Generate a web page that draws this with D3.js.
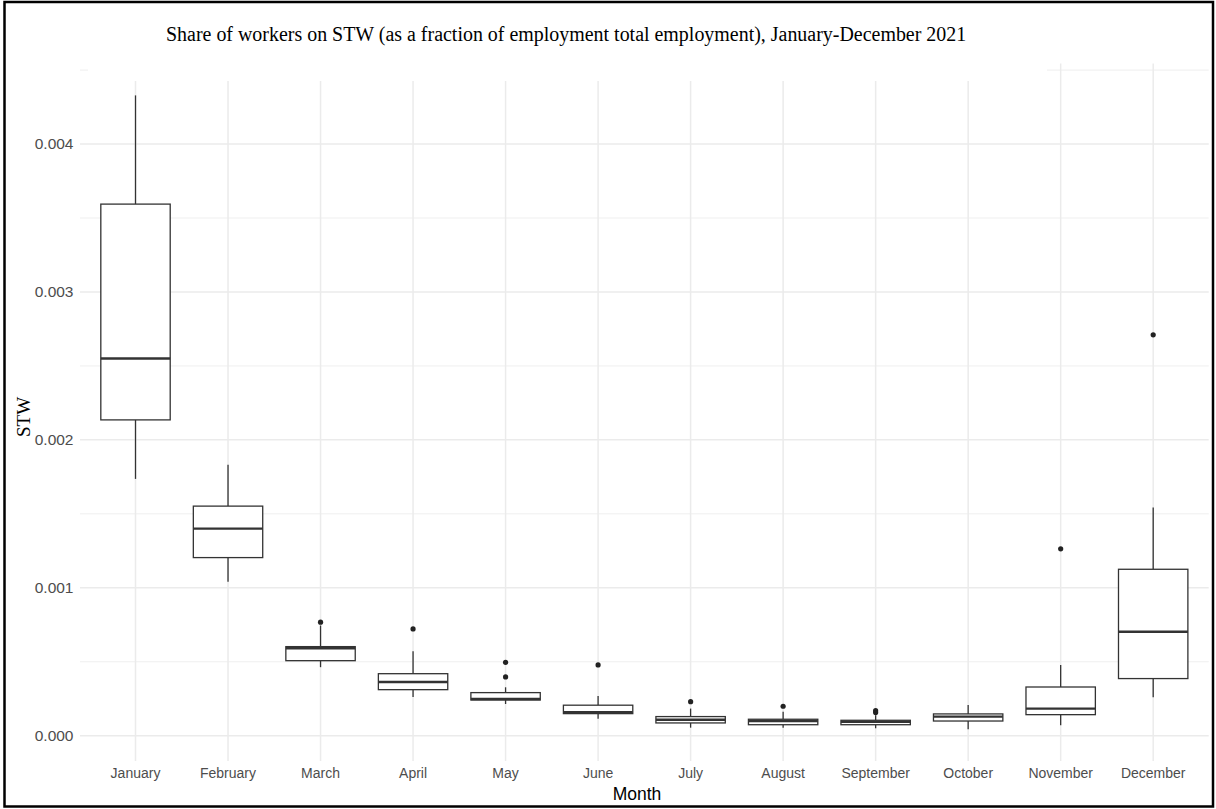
<!DOCTYPE html>
<html><head><meta charset="utf-8">
<script src="https://cdn.jsdelivr.net/npm/d3@7"></script>
<style>body{margin:0;background:#fff}svg{display:block}</style>
</head><body>
<svg id="c" width="1216" height="809"></svg>
<script>
const months = ["January","February","March","April","May","June","July","August","September","October","November","December"];
const whiskerLow  = [0.001736,0.001040,0.000463,0.000262,0.000214,0.000115,0.000054,0.000054,0.000050,0.000043,0.000070,0.000260];
const q1          = [0.002135,0.001204,0.000507,0.000311,0.000241,0.000149,0.000086,0.000074,0.000074,0.000099,0.000142,0.000386];
const medians     = [0.002550,0.001400,0.000591,0.000363,0.000248,0.000158,0.000108,0.000099,0.000093,0.000129,0.000183,0.000703];
const q3          = [0.003594,0.001552,0.000602,0.000419,0.000291,0.000206,0.000129,0.000111,0.000104,0.000147,0.000329,0.001125];
const whiskerHigh = [0.004329,0.001831,0.000745,0.000571,0.000327,0.000269,0.000183,0.000162,0.000138,0.000208,0.000478,0.001542];
const outliers    = [[],[],[0.000767],[0.000722],[0.000496,0.000397],[0.000478],[0.000230],[0.000199],[0.000169,0.000156],[],[0.001263],[0.002710]];
const yTicks = [0,0.001,0.002,0.003,0.004];
const yMinor = [0.0005,0.0015,0.0025,0.0035,0.0045];

(function(){
const svg = d3.select("#c");
const pL = 80, pR = 1208.7, pT = 63.6, pB = 761.1;
const x = d3.scaleBand().domain(months).range([pL, pR]).paddingOuter(0.1).paddingInner(0);
const cx = m => x(m) + x.bandwidth()/2;
const y = d3.scaleLinear().domain([-0.000172, 0.004544]).range([pB, pT]);

const grid = svg.append("g");
grid.selectAll("line.minor").data(yMinor).join("line")
  .attr("x1",pL).attr("x2",pR).attr("y1",d=>y(d)).attr("y2",d=>y(d))
  .attr("stroke","#ebebeb").attr("stroke-width",0.8);
grid.selectAll("line.major").data(yTicks).join("line")
  .attr("x1",pL).attr("x2",pR).attr("y1",d=>y(d)).attr("y2",d=>y(d))
  .attr("stroke","#ebebeb").attr("stroke-width",1.5);
grid.selectAll("line.v").data(months).join("line")
  .attr("x1",d=>cx(d)).attr("x2",d=>cx(d)).attr("y1",pT).attr("y2",pB)
  .attr("stroke","#ebebeb").attr("stroke-width",1.5);

// white mask over title area (as in reference)
svg.append("rect").attr("x",88).attr("y",0).attr("width",959).attr("height",81).attr("fill","#fff");

const bw = x.bandwidth()*0.75;
const g = svg.append("g");
months.forEach((m,i)=>{
  const c = cx(m);
  g.append("line").attr("x1",c).attr("x2",c).attr("y1",y(q3[i])).attr("y2",y(whiskerHigh[i])).attr("stroke","#333").attr("stroke-width",1.3);
  g.append("line").attr("x1",c).attr("x2",c).attr("y1",y(q1[i])).attr("y2",y(whiskerLow[i])).attr("stroke","#333").attr("stroke-width",1.3);
  g.append("rect").attr("x",c-bw/2).attr("y",y(q3[i])).attr("width",bw).attr("height",Math.max(0.5,y(q1[i])-y(q3[i])))
    .attr("fill","#fff").attr("stroke","#333").attr("stroke-width",1.3);
  g.append("line").attr("x1",c-bw/2).attr("x2",c+bw/2).attr("y1",y(medians[i])).attr("y2",y(medians[i])).attr("stroke","#333").attr("stroke-width",2.4);
  outliers[i].forEach(o=>{
    g.append("circle").attr("cx",c).attr("cy",y(o)).attr("r",2.6).attr("fill","#222");
  });
});

const tickFont = "Liberation Sans, Arial, sans-serif";
svg.append("g").selectAll("text").data(yTicks).join("text")
  .attr("x",73.5).attr("y",d=>y(d)).attr("dy","0.35em").attr("text-anchor","end")
  .attr("font-family",tickFont).attr("font-size",15.5).attr("fill","#4d4d4d")
  .text(d=>d3.format(".3f")(d));
svg.append("g").selectAll("text").data(months).join("text")
  .attr("x",d=>cx(d)).attr("y",778).attr("text-anchor","middle")
  .attr("font-family",tickFont).attr("font-size",14).attr("fill","#4d4d4d")
  .text(d=>d);
svg.append("text").attr("x",637).attr("y",800).attr("text-anchor","middle")
  .attr("font-family",tickFont).attr("font-size",17.5).attr("fill","#000").text("Month");
svg.append("text").attr("transform","translate(30,417) rotate(-90)").attr("text-anchor","middle")
  .attr("font-family","Liberation Serif, Times New Roman, serif").attr("font-size",19).attr("fill","#000").text("STW");

const title = svg.append("text").attr("x",166).attr("y",41)
  .attr("font-family","Liberation Serif, Times New Roman, serif").attr("font-size",16).attr("fill","#000")
  .text("Share of workers on STW (as a fraction of employment total employment), January-December 2021");
const w = title.node().getComputedTextLength();
title.attr("font-size", 16*801/w);

svg.append("rect").attr("x",4.5).attr("y",2).attr("width",1208.5).attr("height",804.5)
  .attr("fill","none").attr("stroke","#000").attr("stroke-width",2.5);
})();
</script>
</body></html>
